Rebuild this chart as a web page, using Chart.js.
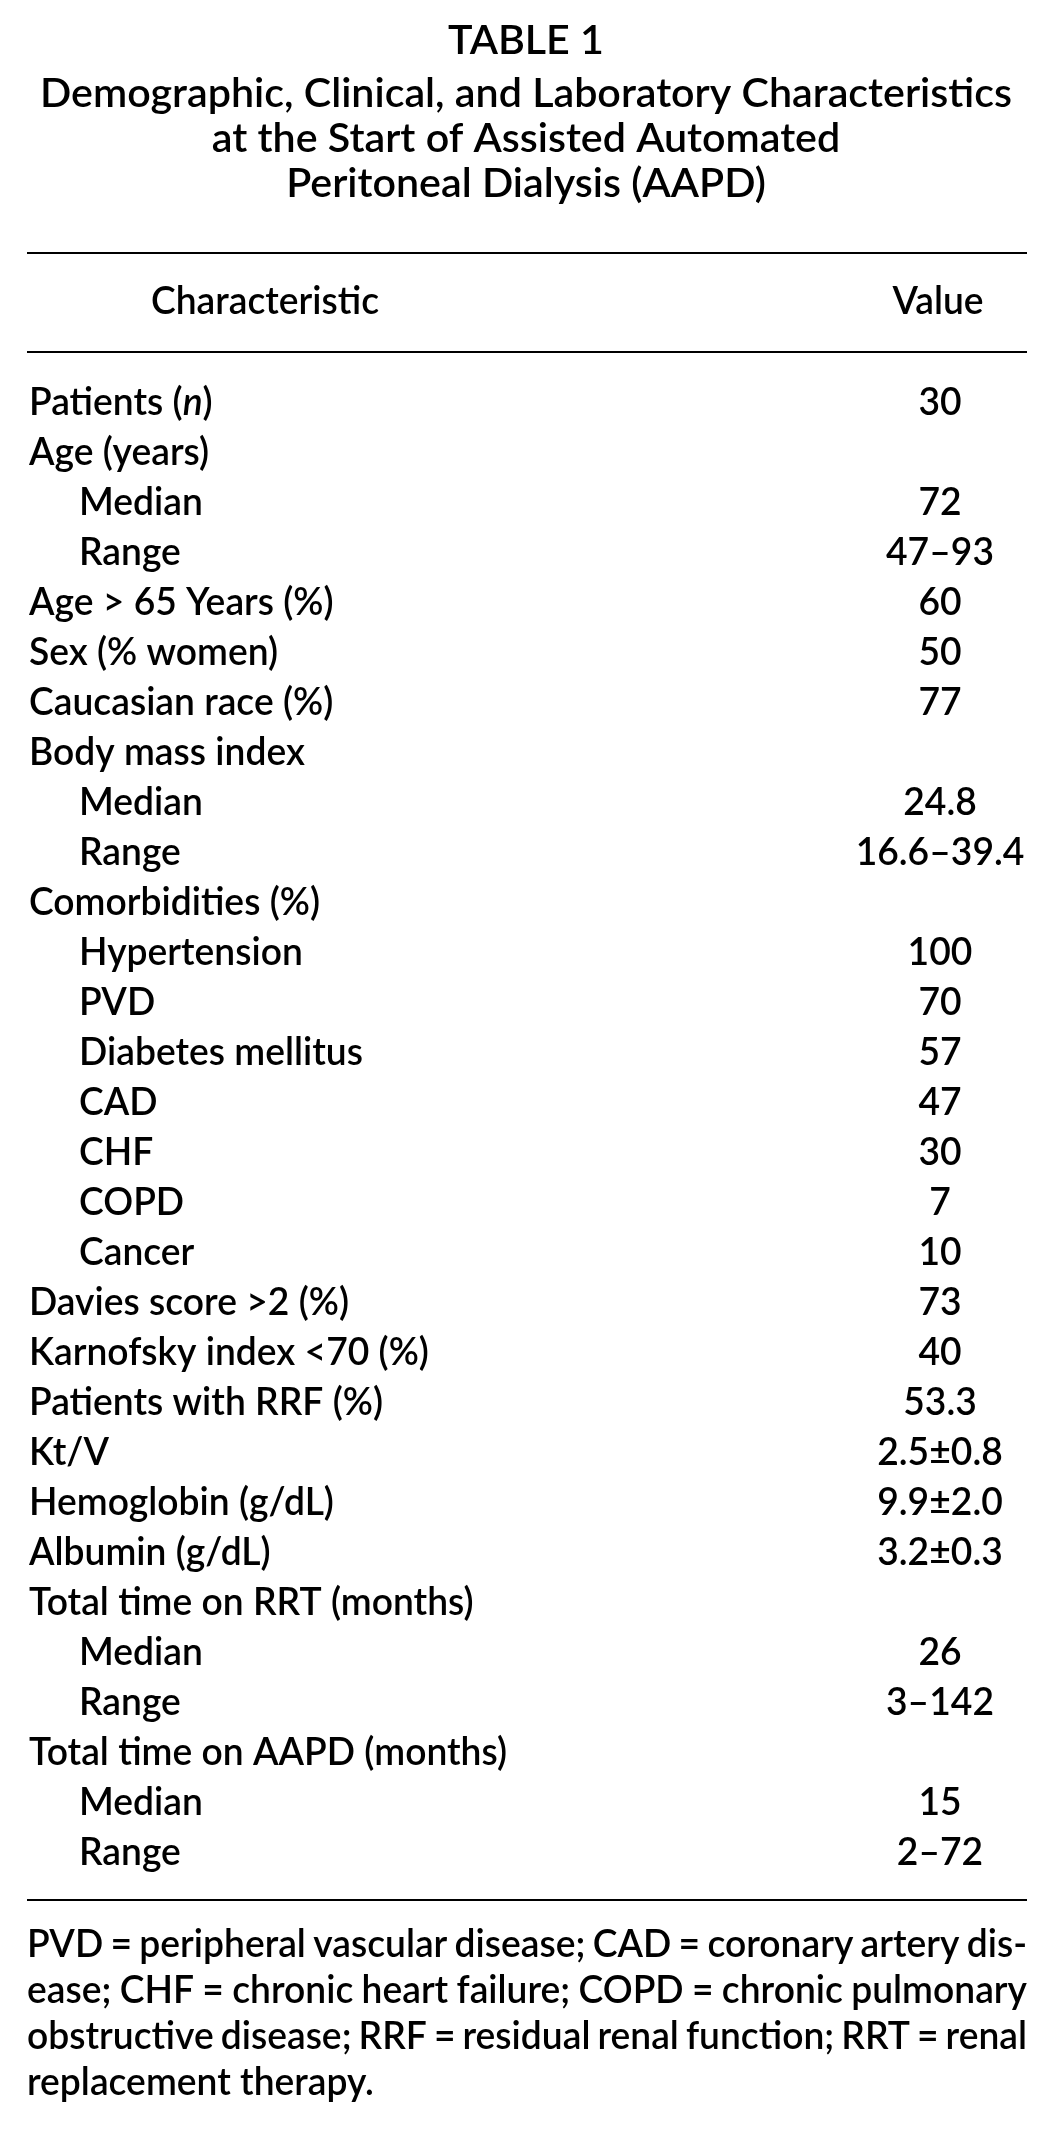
<!DOCTYPE html>
<html>
<head>
<meta charset="utf-8">
<script src="https://cdn.jsdelivr.net/npm/chart.js@4.4.1/dist/chart.umd.min.js"></script>
<style>
  html, body { margin: 0; padding: 0; background: #fff; }
  canvas { display: block; }
</style>
</head>
<body>
<canvas id="tbl" width="1045" height="2140"></canvas>
<script>
// table content
var TITLE_LINES = [
  'TABLE 1',
  'Demographic, Clinical, and Laboratory Characteristics',
  'at the Start of Assisted Automated',
  'Peritoneal Dialysis (AAPD)'
];
var COLUMNS = ['Characteristic', 'Value'];
var CHARACTERISTICS = [
  'Patients (*n*)', 'Age (years)', 'Median', 'Range', 'Age > 65 Years (%)',
  'Sex (% women)', 'Caucasian race (%)', 'Body mass index', 'Median', 'Range',
  'Comorbidities (%)', 'Hypertension', 'PVD', 'Diabetes mellitus', 'CAD',
  'CHF', 'COPD', 'Cancer', 'Davies score >2 (%)', 'Karnofsky index <70 (%)',
  'Patients with RRF (%)', 'Kt/V', 'Hemoglobin (g/dL)', 'Albumin (g/dL)', 'Total time on RRT (months)',
  'Median', 'Range', 'Total time on AAPD (months)', 'Median', 'Range'
];
var INDENTED = [0,0,1,1,0, 0,0,0,1,1, 0,1,1,1,1, 1,1,1,0,0, 0,0,0,0,0, 1,1,0,1,1];
var VALUES = [
  '30', '', '72', '47\u201393', '60',
  '50', '77', '', '24.8', '16.6\u201339.4',
  '', '100', '70', '57', '47',
  '30', '7', '10', '73', '40',
  '53.3', '2.5\u00b10.8', '9.9\u00b12.0', '3.2\u00b10.3', '',
  '26', '3\u2013142', '', '15', '2\u201372'
];
var FOOTNOTE = [
  'PVD = peripheral vascular disease; CAD = coronary artery dis-',
  'ease; CHF = chronic heart failure; COPD = chronic pulmonary',
  'obstructive disease; RRF = residual renal function; RRT = renal',
  'replacement therapy.'
];

var FONT = 'Lato, "Noto Sans", sans-serif';
var WEIGHT = '600 ';
var BODY = 39;
var LEFT = 27, RIGHT = 1027;

// widths (px) of a few labels in the printed table, used to fit the font width
var FIT = [
  ['Age > 65 Years (%)', 302], ['Sex (% women)', 252], ['Caucasian race (%)', 308],
  ['Body mass index', 270], ['Patients with RRF (%)', 350], ['Hemoglobin (g/dL)', 313],
  ['Albumin (g/dL)', 250], ['Total time on RRT (months)', 442], ['Total time on AAPD (months)', 470]
];

function drawScaled(ctx, text, x, y, sx, align) {
  ctx.save();
  ctx.translate(x, y);
  ctx.scale(sx, 1);
  ctx.textAlign = align || 'left';
  ctx.fillText(text, 0, 0);
  ctx.restore();
}

// label with *italic* parts
function drawRich(ctx, text, x, y, sx) {
  var parts = text.split('*');
  var cx = x;
  parts.forEach(function (p, k) {
    if (!p) return;
    ctx.font = (k % 2 ? 'italic ' : '') + WEIGHT + BODY + 'px ' + FONT;
    drawScaled(ctx, p, cx, y, sx);
    cx += ctx.measureText(p).width * sx;
  });
}

function drawJustified(ctx, text, y, sx, last) {
  if (last) { drawScaled(ctx, text, LEFT, y, sx); return; }
  var words = text.split(' ');
  var w = 0;
  words.forEach(function (t) { w += ctx.measureText(t).width * sx; });
  var gap = (RIGHT - LEFT - w) / (words.length - 1);
  var cx = LEFT;
  words.forEach(function (t) {
    drawScaled(ctx, t, cx, y, sx);
    cx += ctx.measureText(t).width * sx + gap;
  });
}

var tablePlugin = {
  id: 'tableText',
  afterDraw: function (chart) {
    var ctx = chart.ctx;
    var y = chart.scales.y;
    ctx.save();
    ctx.fillStyle = '#000';
    ctx.textBaseline = 'alphabetic';

    ctx.font = WEIGHT + BODY + 'px ' + FONT;
    var want = 0, got = 0;
    FIT.forEach(function (f) { want += f[1]; got += ctx.measureText(f[0]).width; });
    var sx = want / got;

    // title
    ctx.font = WEIGHT + '40px ' + FONT;
    var tsx = 972 / ctx.measureText(TITLE_LINES[1]).width;
    var tBase = [54, 107, 152, 197];
    TITLE_LINES.forEach(function (t, i) {
      drawScaled(ctx, t, 526, tBase[i], tsx, 'center');
    });

    // rules
    ctx.fillRect(LEFT, 252, RIGHT - LEFT, 2);
    ctx.fillRect(LEFT, 351, RIGHT - LEFT, 2);
    ctx.fillRect(LEFT, 1899, RIGHT - LEFT, 2);

    // header
    ctx.font = WEIGHT + BODY + 'px ' + FONT;
    drawScaled(ctx, COLUMNS[0], 265, 314, sx, 'center');
    drawScaled(ctx, COLUMNS[1], 938, 314, sx, 'center');

    // rows, positioned by the category scale
    CHARACTERISTICS.forEach(function (lab, i) {
      var py = y.getPixelForValue(i) + 14;
      drawRich(ctx, lab, LEFT + 2 + (INDENTED[i] ? 50 : 0), py, sx);
      ctx.font = WEIGHT + BODY + 'px ' + FONT;
      if (VALUES[i]) drawScaled(ctx, VALUES[i], 940, py, sx, 'center');
    });

    // footnote
    ctx.font = WEIGHT + BODY + 'px ' + FONT;
    FOOTNOTE.forEach(function (t, i) {
      drawJustified(ctx, t, 1957 + i * 46, sx, i === FOOTNOTE.length - 1);
    });
    ctx.restore();
  }
};

new Chart(document.getElementById('tbl').getContext('2d'), {
  type: 'bar',
  data: {
    labels: CHARACTERISTICS,
    datasets: [{ label: COLUMNS[1], data: [] }]
  },
  options: {
    indexAxis: 'y',
    responsive: false,
    animation: false,
    devicePixelRatio: 1,
    layout: { padding: { top: 376, bottom: 264, left: LEFT, right: 1045 - RIGHT } },
    plugins: { legend: { display: false }, tooltip: { enabled: false } },
    scales: {
      x: { display: false, min: 0, max: 1 },
      y: { display: false, offset: true }
    }
  },
  plugins: [tablePlugin]
});
</script>
</body>
</html>
